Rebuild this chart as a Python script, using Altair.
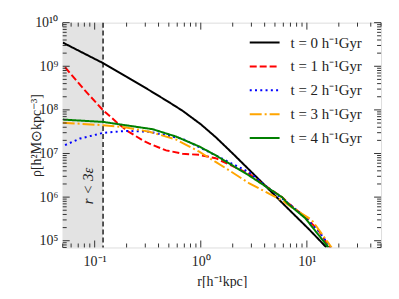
import altair as alt
import pandas as pd

# ---------------- data ----------------
r_t0 = [0.05, 0.12, 0.2, 0.328, 0.5, 0.673, 1.0, 1.38, 2.0, 2.84, 3.78, 6.25, 10.4, 15.3]
rho_t0 = [3.5e9, 1.18e9, 5.75e8, 2.82e8, 1.51e8, 9.55e7, 4.68e7, 2.38e7, 1.0e7, 4.3e6, 2.16e6, 6.3e5, 1.86e5, 7.0e4]

r_t1 = [0.0526, 0.0809, 0.12, 0.16, 0.199, 0.284, 0.328, 0.471, 0.673, 0.966, 1.38, 2.84, 3.78, 5.82, 6.7, 9.64, 12.8, 16.5]
rho_t1 = [9.5e8, 2.8e8, 9.8e7, 5.3e7, 3.4e7, 2.0e7, 1.68e7, 1.18e7, 9.9e6, 9.3e6, 7.8e6, 3.45e6, 2.04e6, 1.0e6, 7.2e5, 3.5e5, 1.75e5, 7.0e4]

r_t2 = [0.0526, 0.0727, 0.12, 0.199, 0.328, 0.673, 0.966, 1.38, 1.98, 2.84, 3.78, 6.7, 9.64, 12.8, 16.8]
rho_t2 = [1.56e7, 2.2e7, 2.97e7, 3.3e7, 3.15e7, 2.18e7, 1.4e7, 9.1e6, 5.8e6, 3.75e6, 2.1e6, 7.2e5, 3.4e5, 1.7e5, 7.0e4]

r_t3 = [0.05, 0.12, 0.199, 0.328, 0.583, 0.966, 1.38, 1.72, 2.84, 5.82, 7.21, 11.1, 17.1]
rho_t3 = [5.1e7, 4.45e7, 3.95e7, 3.15e7, 2.1e7, 1.1e7, 6.4e6, 4.6e6, 2.1e6, 8.4e5, 5.8e5, 3.0e5, 7.0e4]

r_t4 = [0.05, 0.12, 0.353, 0.583, 0.966, 1.38, 2.84, 5.82, 6.7, 9.64, 16.0]
rho_t4 = [6.0e7, 5.3e7, 3.6e7, 2.45e7, 1.45e7, 9.1e6, 3.15e6, 1.0e6, 6.9e5, 3.3e5, 7.0e4]

labels = ["t = 0 h⁻¹Gyr", "t = 1 h⁻¹Gyr", "t = 2 h⁻¹Gyr", "t = 3 h⁻¹Gyr", "t = 4 h⁻¹Gyr"]
colors = ["#000000", "#ff0000", "#0000ff", "#ffa500", "#008000"]
dashes = [[1, 0], [7, 3], [2, 3.3], [12, 3, 2, 3], [1, 0]]

r_soft = 0.12            # r = 3 epsilon
x_domain = [0.05, 50]
y_domain = [7e4, 1e10]
x_major = [0.1, 1, 10]
x_major_labels = ["10⁻¹", "10⁰", "10¹"]
y_major = [1e5, 1e6, 1e7, 1e8, 1e9, 1e10]
y_major_labels = ["10⁵", "10⁶", "10⁷", "10⁸", "10⁹", "10¹⁰"]

# ---------------- tables ----------------
rows = []
for lab, rs, rhos in zip(labels, [r_t0, r_t1, r_t2, r_t3, r_t4],
                         [rho_t0, rho_t1, rho_t2, rho_t3, rho_t4]):
    for i, (a, b) in enumerate(zip(rs, rhos)):
        rows.append({"r": a, "rho": b, "series": lab, "i": i})
df = pd.DataFrame(rows)

def minor(lo, hi):
    out = []
    d = 1e-3
    while d < hi * 10:
        for m in range(2, 10):
            v = m * d
            if lo <= v <= hi:
                out.append(v)
        d *= 10
    return out

x_minor = minor(*x_domain)
y_minor = minor(*y_domain)
x_major_in = [v for v in x_major if x_domain[0] <= v <= x_domain[1]]
y_major_in = [v for v in y_major if y_domain[0] <= v <= y_domain[1]]

W, H = 320, 226
FONT = "Liberation Serif"

xscale = alt.Scale(type="log", domain=x_domain)
yscale = alt.Scale(type="log", domain=y_domain)

def lbl_expr(vals, labs):
    e = "''"
    for v, l in zip(vals, labs):
        e = f"abs(datum.value - {v!r}) < {v * 1e-3!r} ? '{l}' : ({e})"
    return e

xaxis = alt.Axis(values=x_major, labelExpr=lbl_expr(x_major, x_major_labels),
                 ticks=False, domain=False, grid=False, title="r[h⁻¹kpc]",
                 labelFont=FONT, labelFontSize=14, labelColor="#222",
                 labelPadding=7, titleFont=FONT, titleFontSize=14,
                 titleFontWeight="normal", titleColor="#222", titlePadding=6,
                 labelFlush=False)
yaxis = alt.Axis(values=y_major, labelExpr=lbl_expr(y_major, y_major_labels),
                 ticks=False, domain=False, grid=False, title="ρ[h²M⊙kpc⁻³]",
                 labelFont=FONT, labelFontSize=14, labelColor="#222",
                 labelPadding=5, titleFont=FONT, titleFontSize=14,
                 titleFontWeight="normal", titleColor="#222", titlePadding=-9,
                 labelFlush=False)

X = lambda f: alt.X(f, type="quantitative", scale=xscale, axis=xaxis)
Y = lambda f: alt.Y(f, type="quantitative", scale=yscale, axis=yaxis)

shade = alt.Chart(pd.DataFrame({"a": [x_domain[0]], "b": [r_soft]})).mark_rect(
    color="#e3e3e3").encode(x=X("a"), x2="b", y=alt.value(0), y2=alt.value(H))

vline = alt.Chart(pd.DataFrame({"a": [r_soft]})).mark_rule(
    color="#222", strokeWidth=1.5, strokeDash=[5, 3]).encode(
    x=X("a"), y=alt.value(0), y2=alt.value(H))

note = alt.Chart(pd.DataFrame({"a": [0.086], "b": [1.8e6], "t": ["r < 3ε"]})).mark_text(
    angle=270, font=FONT, fontSize=15, fontStyle="italic", color="#222").encode(
    x=X("a"), y=Y("b"), text="t:N")

lines = alt.Chart(df).mark_line(strokeWidth=2, clip=True).encode(
    x=X("r"), y=Y("rho"),
    color=alt.Color("series:N", scale=alt.Scale(domain=labels, range=colors),
                    sort=labels,
                    legend=alt.Legend(title=None, orient="none", legendX=187, legendY=4,
                                      symbolType="stroke", symbolSize=900,
                                      symbolStrokeWidth=2, labelFont=FONT,
                                      labelFontSize=15, labelColor="#222",
                                      rowPadding=-7, padding=0, labelOffset=10)),
    strokeDash=alt.StrokeDash("series:N", scale=alt.Scale(domain=labels, range=dashes),
                              sort=labels, legend=None),
    order=alt.Order("i:Q"))

def ticks(vals, axis, side, L):
    d = alt.Chart(pd.DataFrame({"v": vals})).mark_rule(color="#333", strokeWidth=1)
    if axis == "x":
        if side == "bottom":
            return d.encode(x=X("v"), y=alt.value(H), y2=alt.value(H - L))
        return d.encode(x=X("v"), y=alt.value(0), y2=alt.value(L))
    if side == "left":
        return d.encode(y=Y("v"), x=alt.value(0), x2=alt.value(L))
    return d.encode(y=Y("v"), x=alt.value(W), x2=alt.value(W - L))

tick_layers = []
for side in ["bottom", "top"]:
    tick_layers.append(ticks(x_major_in, "x", side, 7))
    tick_layers.append(ticks(x_minor, "x", side, 4))
for side in ["left", "right"]:
    tick_layers.append(ticks(y_major_in, "y", side, 7))
    tick_layers.append(ticks(y_minor, "y", side, 4))

chart = alt.layer(shade, vline, note, lines, *tick_layers).properties(
    width=W, height=H,
    autosize=alt.AutoSizeParams(type="none"),
    padding={"left": 55, "top": 14, "right": 10, "bottom": 40},
).configure_view(stroke="#333", strokeWidth=1.2).configure(background="white")

chart.save("out.html", embed_options={"renderer": "svg", "actions": False})
